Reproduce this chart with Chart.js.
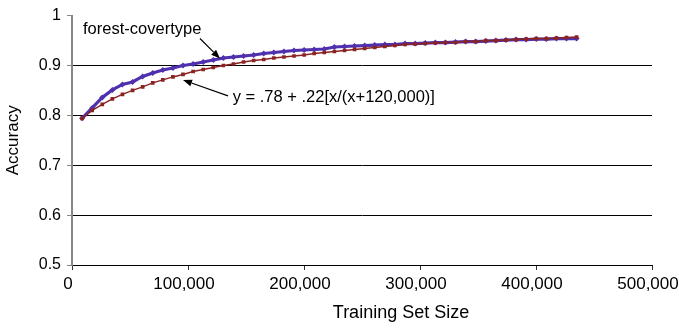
<!DOCTYPE html>
<html>
<head>
<meta charset="utf-8">
<script src="https://cdn.jsdelivr.net/npm/chart.js@4/dist/chart.umd.min.js"></script>
<style>
  html, body { margin: 0; padding: 0; background: #fff; }
  #wrap { width: 679px; height: 330px; position: relative; }
</style>
</head>
<body>
<div id="wrap"><canvas id="c" width="679" height="330"></canvas></div>
<script>
// Training set sizes (x values)
const trainingSizes = [8700,17400,26100,34800,43500,52200,60900,69600,78300,87000,
  95700,104400,113100,121800,130500,139200,147900,156600,165300,174000,
  182700,191400,200100,208800,217500,226200,234900,243600,252300,261000,
  269700,278400,287100,295800,304500,313200,321900,330600,339300,348000,
  356700,365400,374100,382800,391500,400200,408900,417600,426300,435000];

// forest-covertype accuracy
const covertypeAccuracy = [0.794,0.815,0.836,0.851,0.862,0.867,0.878,0.885,0.891,0.895,
  0.900,0.903,0.907,0.911,0.915,0.917,0.919,0.921,0.924,0.926,
  0.928,0.930,0.931,0.932,0.933,0.937,0.938,0.939,0.940,0.941,
  0.942,0.942,0.944,0.944,0.945,0.946,0.946,0.947,0.948,0.948,
  0.949,0.950,0.951,0.952,0.952,0.953,0.953,0.954,0.954,0.954];

// fitted curve y = .78 + .22[x/(x+120,000)]
const fittedCurve = [0.794,0.810,0.822,0.833,0.842,0.850,0.857,0.865,0.871,0.877,
  0.882,0.888,0.892,0.896,0.900,0.903,0.907,0.910,0.912,0.915,
  0.917,0.919,0.921,0.924,0.926,0.928,0.930,0.932,0.934,0.936,
  0.938,0.940,0.942,0.943,0.944,0.945,0.946,0.946,0.948,0.948,
  0.950,0.950,0.951,0.952,0.953,0.954,0.954,0.955,0.956,0.957];

const xTickLabels = ['0','100,000','200,000','300,000','400,000','500,000'];
const yTickLabels = ['0.5','0.6','0.7','0.8','0.9','1'];

const seriesNames = ['forest-covertype', 'y = .78 + .22[x/(x+120,000)]'];
const xAxisTitle = 'Training Set Size';
const yAxisTitle = 'Accuracy';

// annotation anchors in data coordinates
const annotations = [
  { text: seriesNames[0], tx: 9500, ty: 0.972, from: [110300, 0.954], to: [127600, 0.914] },
  { text: seriesNames[1], tx: 138500, ty: 0.836, from: [134500, 0.839], to: [95700, 0.871] }
];

const FONT = "'Liberation Sans', Arial, Helvetica, sans-serif";

function pts(xs, ys) { return xs.map((x, i) => ({ x: x, y: ys[i] })); }

const annotationPlugin = {
  id: 'annot',
  afterDatasetsDraw(chart) {
    const ctx = chart.ctx;
    const xs = chart.scales.x, ys = chart.scales.y;
    ctx.save();
    ctx.fillStyle = '#000';
    ctx.strokeStyle = '#000';
    ctx.font = '16.5px ' + FONT;
    ctx.textBaseline = 'middle';
    ctx.textAlign = 'left';
    annotations.forEach(a => {
      ctx.fillText(a.text, xs.getPixelForValue(a.tx), ys.getPixelForValue(a.ty));
      const x1 = xs.getPixelForValue(a.from[0]), y1 = ys.getPixelForValue(a.from[1]);
      const x2 = xs.getPixelForValue(a.to[0]), y2 = ys.getPixelForValue(a.to[1]);
      const ang = Math.atan2(y2 - y1, x2 - x1);
      const hl = 9, hw = 3.5;
      const bx = x2 - hl * Math.cos(ang), by = y2 - hl * Math.sin(ang);
      ctx.lineWidth = 1.2;
      ctx.beginPath();
      ctx.moveTo(x1, y1);
      ctx.lineTo(bx, by);
      ctx.stroke();
      ctx.beginPath();
      ctx.moveTo(x2, y2);
      ctx.lineTo(bx + hw * Math.sin(ang), by - hw * Math.cos(ang));
      ctx.lineTo(bx - hw * Math.sin(ang), by + hw * Math.cos(ang));
      ctx.closePath();
      ctx.fill();
    });
    // x axis title (placed as in the reference, right of plot centre)
    ctx.font = '18px ' + FONT;
    ctx.textAlign = 'center';
    ctx.textBaseline = 'middle';
    ctx.fillText(xAxisTitle, 401, 313);
    ctx.restore();
  }
};

new Chart(document.getElementById('c'), {
  type: 'line',
  data: {
    datasets: [
      {
        label: seriesNames[0],
        data: pts(trainingSizes, covertypeAccuracy),
        borderColor: '#4f30ae',
        backgroundColor: '#4f30ae',
        borderWidth: 3.2,
        pointStyle: 'rectRot',
        pointRadius: 3,
        pointBorderWidth: 0,
        tension: 0,
        order: 1
      },
      {
        label: seriesNames[1],
        data: pts(trainingSizes, fittedCurve),
        borderColor: '#8b2323',
        backgroundColor: '#8b2323',
        borderWidth: 1.4,
        pointStyle: 'rect',
        pointRadius: 2.6,
        pointBorderWidth: 0,
        tension: 0,
        order: 0
      }
    ]
  },
  options: {
    responsive: false,
    animation: false,
    devicePixelRatio: 1,
    layout: { padding: { top: 14, right: 27, bottom: 0, left: 0 } },
    plugins: { legend: { display: false }, tooltip: { enabled: false } },
    scales: {
      x: {
        type: 'linear',
        min: 0, max: 500000,
        afterFit(s) { s.height = 65; s.paddingLeft = 0; s.paddingRight = 0; },
        ticks: {
          stepSize: 100000,
          maxRotation: 0,
          autoSkip: false,
          color: '#000',
          font: { family: FONT, size: 17 },
          padding: 4,
          labelOffset: -4,
          callback: (v) => xTickLabels[Math.round(v / 100000)]
        },
        grid: { drawOnChartArea: false, drawTicks: true, tickLength: 5, tickColor: '#333', lineWidth: 1 },
        border: { display: true, color: '#000', width: 1 },
        title: { display: false }
      },
      y: {
        type: 'linear',
        min: 0.5, max: 1,
        afterFit(s) { s.width = 72; },
        ticks: {
          stepSize: 0.1,
          color: '#000',
          font: { family: FONT, size: 16 },
          padding: 6,
          callback: (v) => yTickLabels[Math.round((v - 0.5) * 10)]
        },
        grid: {
          color: (c) => (c.tick && Math.abs(c.tick.value - 1) < 1e-6) ? 'rgba(0,0,0,0)' : '#000',
          lineWidth: 1,
          tickLength: 5,
          tickColor: '#888'
        },
        border: { display: true, color: '#888', width: 2 },
        title: { display: true, text: yAxisTitle, color: '#000', font: { family: FONT, size: 17 }, padding: { top: 3, bottom: 0 } }
      }
    }
  },
  plugins: [annotationPlugin]
});
</script>
</body>
</html>
